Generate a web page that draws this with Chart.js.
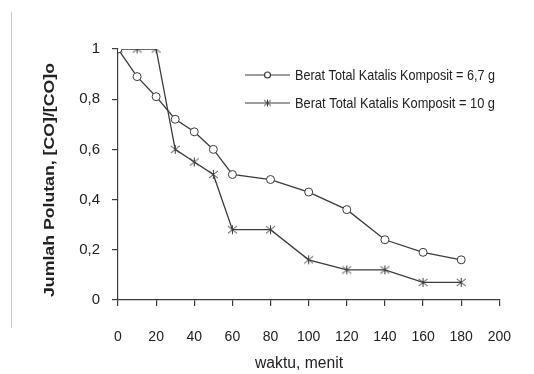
<!DOCTYPE html>
<html lang="id">
<head>
  <meta charset="UTF-8"/>
  <title>Jumlah Polutan vs Waktu</title>
  <script src="https://cdn.jsdelivr.net/npm/chart.js"></script>
  <style>
    html, body { margin: 0; padding: 0; background: #fff; }
    #wrap { width: 534px; height: 374px; }
  </style>
</head>
<body>
<div id="wrap"><canvas id="chart" width="534" height="374"></canvas></div>
<script>
// data
const waktu = [0, 10, 20, 30, 40, 50, 60, 80, 100, 120, 140, 160, 180];
const berat67 = [1, 0.89, 0.81, 0.72, 0.67, 0.60, 0.50, 0.48, 0.43, 0.36, 0.24, 0.19, 0.16];
const berat10 = [1, 1, 1, 0.60, 0.55, 0.50, 0.28, 0.28, 0.16, 0.12, 0.12, 0.07, 0.07];
const seriesLabels = ['Berat Total Katalis Komposit = 6,7 g', 'Berat Total Katalis Komposit = 10 g'];
const xTicks = [0, 20, 40, 60, 80, 100, 120, 140, 160, 180, 200];
const yTicks = ['0', '0,2', '0,4', '0,6', '0,8', '1'];
const xTitle = 'waktu, menit';
const yTitle = 'Jumlah Polutan, [CO]/[CO]o';

const INK = '#3c3c3c';
const FONT = '"Liberation Sans", Arial, sans-serif';

// star-like marker: vertical bar plus an X
function starMarker(size) {
  const c = document.createElement('canvas');
  c.width = size; c.height = size;
  const g = c.getContext('2d');
  g.strokeStyle = INK; g.lineWidth = 1;
  const m = size / 2, r = size / 2 - 1;
  g.beginPath();
  g.moveTo(m, m - r); g.lineTo(m, m + r);
  g.moveTo(m - r, m - r * 0.8); g.lineTo(m + r, m + r * 0.8);
  g.moveTo(m - r, m + r * 0.8); g.lineTo(m + r, m - r * 0.8);
  g.stroke();
  return c;
}
const star = starMarker(11);
const starSmall = starMarker(9);

const pts = arr => waktu.map((t, i) => ({x: t, y: arr[i]}));

// text squeezed/stretched to a given width
function fitText(ctx, text, x, y, width, rot) {
  const w = ctx.measureText(text).width;
  ctx.save();
  ctx.translate(x, y);
  ctx.rotate(rot);
  ctx.scale(width / w, 1);
  ctx.fillText(text, 0, 0);
  ctx.restore();
}

const decor = {
  id: 'decor',
  afterDraw(chart) {
    const ctx = chart.ctx;
    const rows = [
      {y: 75, style: 'circle'},
      {y: 103, style: 'star'}
    ];
    ctx.save();
    rows.forEach((r, i) => {
      ctx.strokeStyle = INK; ctx.lineWidth = 1.2;
      ctx.beginPath(); ctx.moveTo(245, r.y); ctx.lineTo(290, r.y); ctx.stroke();
      if (r.style === 'circle') {
        ctx.fillStyle = '#fff';
        ctx.beginPath(); ctx.arc(267.5, r.y, 3, 0, Math.PI * 2); ctx.fill(); ctx.stroke();
      } else {
        ctx.drawImage(starSmall, 263, r.y - 4.5);
      }
      ctx.fillStyle = '#222';
      ctx.font = '15px ' + FONT;
      ctx.textBaseline = 'middle';
      ctx.textAlign = 'left';
      ctx.fillText(seriesLabels[i], 295, r.y + 1, 200);
    });
    // axis titles
    ctx.fillStyle = '#222';
    ctx.textAlign = 'center';
    ctx.textBaseline = 'middle';
    ctx.font = '16px ' + FONT;
    fitText(ctx, xTitle, 299, 364, 88, 0);
    ctx.font = 'bold 15px ' + FONT;
    fitText(ctx, yTitle, 50, 180, 234, -Math.PI / 2);
    // thin grey page edge on the left
    ctx.strokeStyle = '#c8c8c8'; ctx.lineWidth = 1;
    ctx.beginPath(); ctx.moveTo(11.5, 12); ctx.lineTo(11.5, 328); ctx.stroke();
    ctx.restore();
  }
};

new Chart(document.getElementById('chart'), {
  type: 'line',
  data: {
    datasets: [
      {
        label: seriesLabels[0], data: pts(berat67),
        borderColor: INK, borderWidth: 1.3, pointStyle: 'circle', pointRadius: 4,
        pointBackgroundColor: '#fff', pointBorderColor: INK, pointBorderWidth: 1, tension: 0
      },
      {
        label: seriesLabels[1], data: pts(berat10),
        borderColor: INK, borderWidth: 1.3, pointStyle: star, pointRadius: 5,
        pointBorderColor: INK, tension: 0
      }
    ]
  },
  options: {
    responsive: false,
    animation: false,
    layout: { padding: { left: 0, right: 34, top: 49, bottom: 0 } },
    plugins: { legend: { display: false }, tooltip: { enabled: false } },
    scales: {
      x: {
        type: 'linear', min: 0, max: 200,
        afterFit: s => { s.height = 74; },
        afterBuildTicks: s => { s.ticks = xTicks.map(v => ({value: v})); },
        border: { color: INK, width: 1.2 },
        grid: { drawOnChartArea: false, drawTicks: true, tickLength: 6, color: INK, lineWidth: 1.2 },
        ticks: { color: '#222', font: { family: FONT, size: 14 }, padding: 23, maxRotation: 0 }
      },
      y: {
        min: 0, max: 1,
        afterFit: s => { s.width = 118; },
        afterBuildTicks: s => { s.ticks = yTicks.map((t, i) => ({value: i * 0.2})); },
        border: { color: INK, width: 1.2 },
        grid: { drawOnChartArea: false, drawTicks: true, tickLength: 6, color: INK, lineWidth: 1.2 },
        ticks: {
          color: '#222', font: { family: FONT, size: 15 }, padding: 12,
          callback: (v, i) => yTicks[i]
        }
      }
    }
  },
  plugins: [decor]
});
</script>
</body>
</html>
